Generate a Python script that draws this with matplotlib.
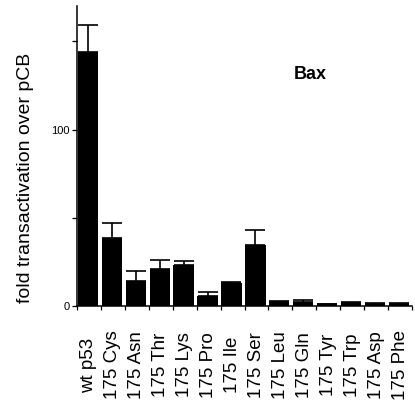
import matplotlib
matplotlib.use('Agg')
import matplotlib.pyplot as plt
import numpy as np

plt.rcParams['font.family'] = ['Liberation Sans', 'DejaVu Sans']

labels = ['wt p53', '175 Cys', '175 Asn', '175 Thr', '175 Lys', '175 Pro', '175 Ile',
          '175 Ser', '175 Leu', '175 Gln', '175 Tyr', '175 Trp', '175 Asp', '175 Phe']
values = [144, 38.5, 14.4, 21, 23, 5.7, 12.9, 34.7, 2.4, 2.4, 1.0, 1.9, 1.2, 1.3]
errors = [15, 8.5, 5.6, 5, 2.3, 2.3, 0.6, 8.3, 0.3, 1.0, 0.3, 0.3, 0.3, 0.3]

fig = plt.figure(figsize=(4.15, 4.13), dpi=100)
ax = fig.add_axes([77/415, 1-306/413, 335/415, 300/413])

idx = np.arange(len(labels))
left = idx + 0.03
w = 0.85
ax.bar(left, values, width=w, align='edge', color='black', edgecolor='black', linewidth=0)
ax.errorbar(left + w/2, values, yerr=[np.zeros(len(errors)), errors], fmt='none',
            ecolor='black', elinewidth=1.2, capsize=7, capthick=1.2)

ax.set_xlim(0, len(labels))
ax.set_ylim(0, 170)

ax.spines['top'].set_visible(False)
ax.spines['right'].set_visible(False)
ax.spines['left'].set_linewidth(1.1)
ax.spines['bottom'].set_linewidth(1.1)

ax.set_yticks([0, 50, 100, 150])
ax.set_yticklabels(['0', '', '100', ''], fontsize=8)
ax.tick_params(axis='y', direction='out', length=3.5, width=0.9, pad=2)

ax.set_xticks(np.arange(len(labels) + 1))
ax.set_xticklabels([])
ax.tick_params(axis='x', direction='out', length=3, width=0.9)

for i, lab in enumerate(labels):
    fig.text((77 + (i + 0.5) * 335/14) / 415, 1 - 365/413, lab, rotation=90,
             ha='center', va='center', fontsize=13.5)

fig.text(26/415, 1 - 178/413, 'fold transactivation over pCB', rotation=90,
         ha='center', va='center', fontsize=14)

ax.text(0.696, 0.77, 'Bax', transform=ax.transAxes, ha='center', va='center',
        fontsize=13, fontweight='bold')

fig.savefig('out.png', dpi=100)
